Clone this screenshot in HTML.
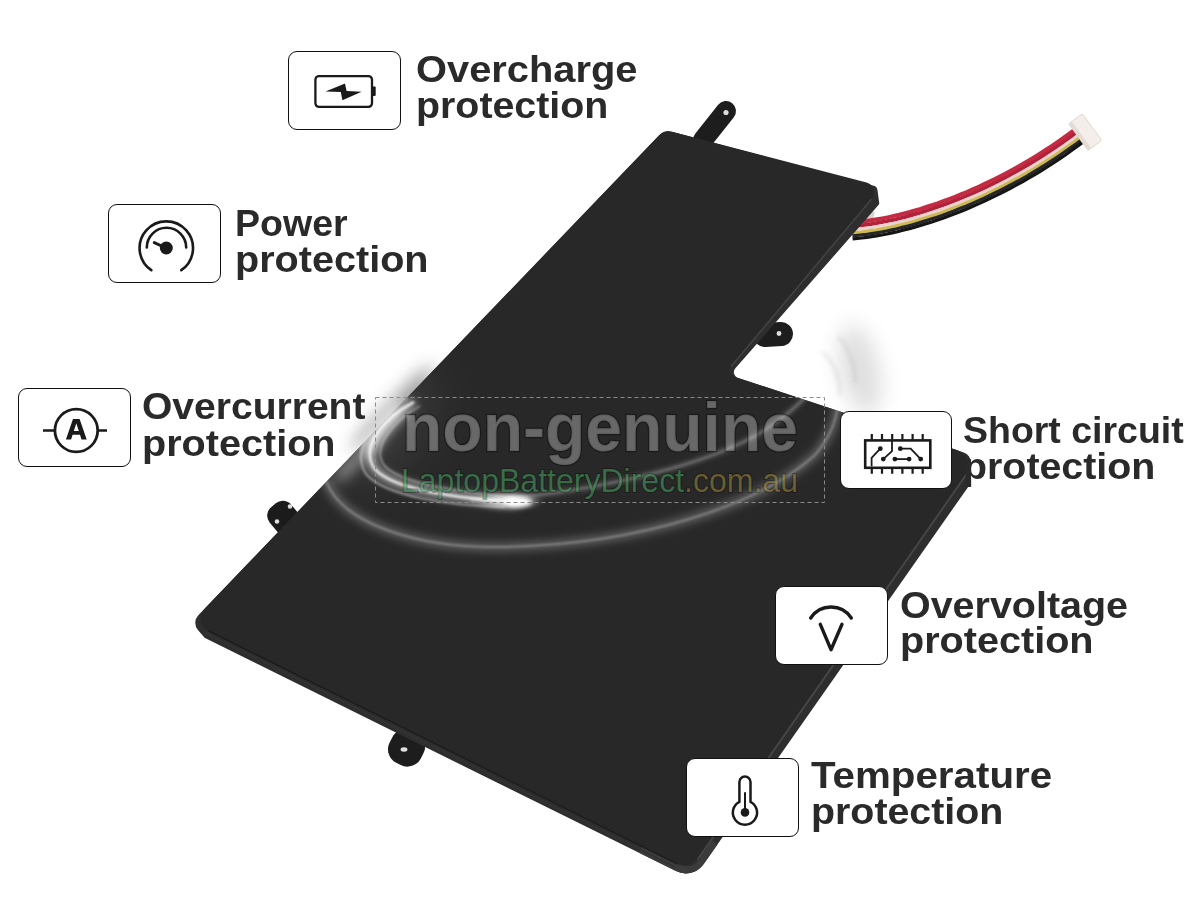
<!DOCTYPE html>
<html><head><meta charset="utf-8">
<style>
html,body{margin:0;padding:0;background:#fff;}
body{width:1200px;height:900px;overflow:hidden;position:relative;font-family:"Liberation Sans",sans-serif;}
.t{position:absolute;font-weight:bold;font-size:36px;line-height:1;color:#2a2a2a;white-space:nowrap;transform-origin:0 0;}
.box{position:absolute;width:110.6px;height:76.6px;border:1.5px solid #101010;border-radius:9px;background:#fff;box-sizing:content-box;}
.box svg{position:absolute;left:-1.5px;top:-1.5px;}
#scene{position:absolute;left:0;top:0;}
</style></head><body>

<svg id="scene" width="1200" height="900" viewBox="0 0 1200 900">
<defs>
  <filter id="b05" x="-10%" y="-10%" width="120%" height="120%"><feGaussianBlur stdDeviation="0.5"/></filter>
  <filter id="b1" x="-50%" y="-50%" width="200%" height="200%"><feGaussianBlur stdDeviation="0.8"/></filter>
  <filter id="b2" x="-50%" y="-50%" width="200%" height="200%"><feGaussianBlur stdDeviation="2"/></filter>
  <filter id="b4" filterUnits="userSpaceOnUse" x="0" y="0" width="1200" height="900"><feGaussianBlur stdDeviation="4"/></filter>
  <filter id="b10" filterUnits="userSpaceOnUse" x="0" y="0" width="1200" height="900"><feGaussianBlur stdDeviation="10"/></filter>
  <filter id="b20" filterUnits="userSpaceOnUse" x="0" y="0" width="1200" height="900"><feGaussianBlur stdDeviation="20"/></filter>
  <clipPath id="batclip"><path id="batpath" d="M671.88,131.63 L866.53,182.42 A10.00,10.00 0 0 1 871.68,198.51 L730.87,366.92 A6.00,6.00 0 0 0 733.59,376.47 L956.79,450.07 A16.00,16.00 0 0 1 964.90,474.42 L696.79,858.49 A16.00,16.00 0 0 1 676.55,863.66 L208.46,630.89 A14.00,14.00 0 0 1 204.60,608.65 L659.22,135.20 A13.00,13.00 0 0 1 671.88,131.63 Z"/></clipPath>
</defs>

<!-- cable -->
<path d="M862,210 L875,212 L872,222 L858,221 Z" fill="#d6d2ce"/>
<g fill="none" stroke-linecap="butt" stroke-linejoin="round" filter="url(#b05)">
<polyline points="851.5,222.4 855.7,222.1 860.1,221.7 864.6,221.2 869.2,220.5 873.9,219.8 878.8,219.0 883.7,218.1 888.7,217.1 893.8,215.9 899.1,214.7 904.3,213.4 909.7,212.0 915.1,210.4 920.7,208.8 926.2,207.0 931.9,205.2 937.6,203.3 943.3,201.2 949.1,199.0 955.0,196.8 960.8,194.4 966.8,192.0 972.7,189.4 978.7,186.7 984.7,183.9 990.7,181.0 996.8,178.1 1002.8,175.0 1008.9,171.8 1014.9,168.5 1021.0,165.0 1027.1,161.5 1033.1,157.9 1039.1,154.2 1045.2,150.3 1051.2,146.4 1057.1,142.3 1063.1,138.2 1069.0,133.9 1074.9,129.6" stroke="#c42b42" stroke-width="4.0"/>
<polyline points="851.7,226.2 856.1,225.9 860.5,225.4 865.1,224.9 869.8,224.3 874.6,223.5 879.4,222.7 884.4,221.7 889.5,220.7 894.7,219.6 899.9,218.3 905.3,217.0 910.7,215.5 916.2,213.9 921.7,212.3 927.4,210.5 933.0,208.7 938.8,206.7 944.6,204.6 950.4,202.4 956.3,200.1 962.2,197.8 968.2,195.3 974.2,192.7 980.2,190.0 986.2,187.2 992.3,184.2 998.4,181.2 1004.5,178.1 1010.5,174.9 1016.6,171.5 1022.7,168.1 1028.8,164.5 1034.9,160.9 1041.0,157.1 1047.1,153.2 1053.1,149.3 1059.1,145.2 1065.1,141.0 1071.0,136.7 1076.9,132.3" stroke="#b3223a" stroke-width="3.9"/>
<polyline points="852.0,229.7 856.4,229.4 860.9,228.9 865.5,228.3 870.3,227.7 875.1,226.9 880.1,226.1 885.1,225.1 890.2,224.1 895.5,222.9 900.8,221.6 906.1,220.3 911.6,218.8 917.1,217.2 922.7,215.5 928.4,213.7 934.1,211.8 939.9,209.8 945.7,207.7 951.6,205.5 957.5,203.2 963.5,200.8 969.5,198.3 975.5,195.7 981.6,193.0 987.6,190.1 993.7,187.2 999.8,184.1 1006.0,181.0 1012.1,177.7 1018.2,174.4 1024.4,170.9 1030.5,167.3 1036.6,163.6 1042.7,159.8 1048.8,155.9 1054.9,151.9 1060.9,147.8 1066.9,143.6 1072.9,139.2 1078.8,134.8" stroke="#ecd2cf" stroke-width="3.1"/>
<polyline points="852.2,232.7 856.7,232.3 861.2,231.9 865.9,231.3 870.7,230.6 875.6,229.9 880.6,229.0 885.7,228.0 890.9,226.9 896.1,225.7 901.5,224.5 906.9,223.1 912.4,221.6 917.9,220.0 923.6,218.3 929.3,216.5 935.0,214.6 940.8,212.6 946.7,210.4 952.6,208.2 958.6,205.9 964.6,203.4 970.6,200.9 976.6,198.3 982.7,195.5 988.8,192.7 995.0,189.7 1001.1,186.6 1007.3,183.4 1013.4,180.2 1019.6,176.8 1025.7,173.3 1031.9,169.7 1038.0,166.0 1044.2,162.1 1050.3,158.2 1056.4,154.2 1062.5,150.0 1068.5,145.8 1074.5,141.4 1080.5,136.9" stroke="#cdb94e" stroke-width="3.0"/>
<polyline points="852.4,235.8 856.9,235.4 861.6,234.9 866.3,234.4 871.2,233.7 876.1,232.9 881.1,232.0 886.3,231.0 891.5,229.9 896.8,228.7 902.2,227.4 907.6,226.0 913.2,224.5 918.8,222.9 924.5,221.1 930.2,219.3 936.0,217.4 941.8,215.4 947.7,213.2 953.7,211.0 959.7,208.6 965.7,206.2 971.7,203.6 977.8,200.9 983.9,198.2 990.1,195.3 996.2,192.3 1002.4,189.2 1008.6,186.0 1014.8,182.7 1021.0,179.3 1027.2,175.8 1033.3,172.1 1039.5,168.4 1045.7,164.5 1051.8,160.6 1058.0,156.5 1064.1,152.3 1070.1,148.1 1076.2,143.7 1082.2,139.2" stroke="#262626" stroke-width="3.2"/>
<polyline points="852.6,238.9 857.2,238.5 861.9,238.0 866.7,237.4 871.6,236.7 876.6,235.9 881.7,235.0 886.9,234.0 892.1,232.9 897.5,231.7 902.9,230.3 908.4,228.9 914.0,227.4 919.6,225.7 925.3,224.0 931.1,222.2 936.9,220.2 942.8,218.2 948.8,216.0 954.7,213.7 960.7,211.4 966.8,208.9 972.9,206.3 979.0,203.6 985.2,200.8 991.3,197.9 997.5,194.9 1003.7,191.8 1009.9,188.6 1016.1,185.2 1022.4,181.8 1028.6,178.2 1034.8,174.6 1041.0,170.8 1047.2,166.9 1053.4,163.0 1059.5,158.9 1065.7,154.7 1071.8,150.3 1077.8,145.9 1083.8,141.4" stroke="#121212" stroke-width="3.2"/>
</g>
<g transform="translate(1085.5,132.5) rotate(-36)">
  <rect x="-8.5" y="-17" width="17" height="33" rx="1.5" fill="#f3eee9" stroke="#ddd3ca" stroke-width="0.8"/>
  <rect x="-8.5" y="-17" width="4" height="33" fill="#e4dcd4"/>
</g>
<!-- tabs -->
<path d="M703,140 L726,111" stroke="#1d1d1d" stroke-width="20" stroke-linecap="round"/>
<circle cx="726" cy="112.5" r="2.6" fill="#ddd"/>
<path d="M765,335 L781,334" stroke="#1d1d1d" stroke-width="24" stroke-linecap="round"/>
<circle cx="779" cy="333.5" r="2.4" fill="#ddd"/>
<g transform="translate(285,519) rotate(-40)"><rect x="-14" y="-18" width="28" height="38" rx="11" fill="#1b1b1b"/></g>
<circle cx="290" cy="506.5" r="2.3" fill="#ddd"/>
<circle cx="277" cy="521.5" r="2.3" fill="#ddd"/>
<g transform="translate(407.5,746) rotate(27)"><rect x="-17.5" y="-16" width="35" height="36" rx="15" fill="#1d1d1d"/></g>
<ellipse cx="404" cy="749.5" rx="3.4" ry="2.2" fill="#e0e0e0"/>

<defs>
  <filter id="b7" filterUnits="userSpaceOnUse" x="0" y="0" width="1200" height="900"><feGaussianBlur stdDeviation="7"/></filter>
  <mask id="mSmoke" maskUnits="userSpaceOnUse" x="0" y="0" width="1200" height="900">
    <ellipse cx="392" cy="408" rx="26" ry="55" transform="rotate(44 392 408)" fill="#fff" filter="url(#b10)"/>
  </mask>
</defs>
<path d="M671.92,131.69 L873.79,185.74 A5.00,5.00 0 0 1 877.45,189.89 L879.21,202.64 A3.00,3.00 0 0 1 878.50,205.03 L735.37,368.29 A6.00,6.00 0 0 0 738.00,377.94 L963.77,452.51 A10.00,10.00 0 0 1 970.62,462.51 L969.54,484.14 A3.00,3.00 0 0 1 969.00,485.71 L703.74,864.04 A22.00,22.00 0 0 1 675.97,871.12 L205.54,638.37 A3.00,3.00 0 0 1 204.60,637.64 L197.93,629.94 A10.93,10.93 0 0 1 198.31,615.21 L659.18,135.24 A13.00,13.00 0 0 1 671.92,131.69 Z" fill="#000" fill-opacity="0.5" filter="url(#b10)" mask="url(#mSmoke)" transform="translate(-5,-5)"/>
<!-- battery body: side band then top surface -->
<path d="M671.92,131.69 L873.79,185.74 A5.00,5.00 0 0 1 877.45,189.89 L879.21,202.64 A3.00,3.00 0 0 1 878.50,205.03 L735.37,368.29 A6.00,6.00 0 0 0 738.00,377.94 L963.77,452.51 A10.00,10.00 0 0 1 970.62,462.51 L969.54,484.14 A3.00,3.00 0 0 1 969.00,485.71 L703.74,864.04 A22.00,22.00 0 0 1 675.97,871.12 L205.54,638.37 A3.00,3.00 0 0 1 204.60,637.64 L197.93,629.94 A10.93,10.93 0 0 1 198.31,615.21 L659.18,135.24 A13.00,13.00 0 0 1 671.92,131.69 Z" fill="#2e2e2e"/>
<clipPath id="silclip"><path d="M671.92,131.69 L873.79,185.74 A5.00,5.00 0 0 1 877.45,189.89 L879.21,202.64 A3.00,3.00 0 0 1 878.50,205.03 L735.37,368.29 A6.00,6.00 0 0 0 738.00,377.94 L963.77,452.51 A10.00,10.00 0 0 1 970.62,462.51 L969.54,484.14 A3.00,3.00 0 0 1 969.00,485.71 L703.74,864.04 A22.00,22.00 0 0 1 675.97,871.12 L205.54,638.37 A3.00,3.00 0 0 1 204.60,637.64 L197.93,629.94 A10.93,10.93 0 0 1 198.31,615.21 L659.18,135.24 A13.00,13.00 0 0 1 671.92,131.69 Z"/></clipPath>
<path d="M716,843 L703,862 Q693,876 676,868 L640,850" fill="none" stroke="#3b3b3b" stroke-width="9" clip-path="url(#silclip)"/>
<use href="#batpath" fill="#282828"/>
<g fill="none" stroke-linecap="round">
  <path d="M871.2,199.5 L731.5,366" stroke="#424242" stroke-width="1.6"/>
  <path d="M966,475 L698,859" stroke="#474747" stroke-width="1.8"/>
  <path d="M676.5,863.7 L208.5,630.9" stroke="#1b1b1b" stroke-width="1.2"/>
  <path d="M205,633 L675,867" stroke="#333" stroke-width="1.5"/>
</g>
<!-- swirl glows -->
<defs>
  <linearGradient id="gOuter" gradientUnits="userSpaceOnUse" x1="370" y1="0" x2="840" y2="0">
    <stop offset="0" stop-color="#fff" stop-opacity="0.75"/>
    <stop offset="0.3" stop-color="#fff" stop-opacity="0.45"/>
    <stop offset="0.7" stop-color="#fff" stop-opacity="0.32"/>
    <stop offset="1" stop-color="#fff" stop-opacity="0.22"/>
  </linearGradient>
  <linearGradient id="gInner" gradientUnits="userSpaceOnUse" x1="370" y1="0" x2="820" y2="0">
    <stop offset="0" stop-color="#fff" stop-opacity="0.95"/>
    <stop offset="0.35" stop-color="#fff" stop-opacity="0.8"/>
    <stop offset="0.6" stop-color="#fff" stop-opacity="0.25"/>
    <stop offset="1" stop-color="#fff" stop-opacity="0.12"/>
  </linearGradient>
  <radialGradient id="gSpot" cx="0.5" cy="0.5" r="0.5">
    <stop offset="0" stop-color="#fff" stop-opacity="1"/>
    <stop offset="0.4" stop-color="#fff" stop-opacity="0.6"/>
    <stop offset="1" stop-color="#fff" stop-opacity="0"/>
  </radialGradient>
  <radialGradient id="gHaze" cx="0.5" cy="0.5" r="0.5">
    <stop offset="0" stop-color="#fff" stop-opacity="1"/>
    <stop offset="0.55" stop-color="#fff" stop-opacity="0.8"/>
    <stop offset="1" stop-color="#fff" stop-opacity="0"/>
  </radialGradient>
</defs>
<g clip-path="url(#batclip)">
  <!-- outer ring C -->
  <path d="M325,478 C340,525 420,548 500,547 C640,545 760,505 815,455 C835,432 842,405 838,380" fill="none" stroke="#fff" stroke-opacity="0.28" stroke-width="8" filter="url(#b4)"/>
  <path d="M325,478 C340,525 420,548 500,547 C640,545 760,505 815,455 C835,432 842,405 838,380" fill="none" stroke="#fff" stroke-opacity="0.3" stroke-width="2" filter="url(#b1)"/>
  <!-- middle ring B -->
  <path d="M470,500 C560,498 690,472 755,436 C785,418 805,400 818,382" fill="none" stroke="#fff" stroke-opacity="0.2" stroke-width="5" filter="url(#b2)"/>
  <path d="M470,500 C560,498 690,472 755,436 C785,418 805,400 818,382" fill="none" stroke="#fff" stroke-opacity="0.22" stroke-width="1.5" filter="url(#b1)"/>
  <!-- inner bright ring A -->
  <path d="M414,402 C384,418 360,446 374,468 C390,488 450,498 518,502" fill="none" stroke="#fff" stroke-opacity="0.55" stroke-width="9" filter="url(#b4)"/>
  <path d="M414,402 C384,418 360,446 374,468 C390,488 450,498 518,502" fill="none" stroke="#fff" stroke-opacity="0.9" stroke-width="2.2" filter="url(#b1)"/>
  <path d="M408,398 C376,416 350,450 366,474 C384,496 450,506 505,507" fill="none" stroke="#fff" stroke-opacity="0.6" stroke-width="1.5" filter="url(#b1)"/>
  <path d="M420,406 C392,422 372,448 384,465 C400,484 460,492 515,498" fill="none" stroke="#fff" stroke-opacity="0.5" stroke-width="1.3" filter="url(#b1)"/>
  <ellipse cx="508" cy="501" rx="36" ry="10" fill="url(#gSpot)" filter="url(#b2)"/>
  <ellipse cx="518" cy="502" rx="14" ry="5" fill="#fff" filter="url(#b2)"/>
  </g>
<!-- left haze (unclipped) -->
  <ellipse cx="380" cy="428" rx="40" ry="70" transform="rotate(44 380 428)" fill="#fff" fill-opacity="0.08" filter="url(#b20)"/>
  <path d="M398,410 C388,420 378,432 370,444" fill="none" stroke="#fff" stroke-opacity="0.95" stroke-width="12" stroke-linecap="round" filter="url(#b7)"/>
  <path d="M370,444 C360,456 350,466 340,476" fill="none" stroke="#fff" stroke-opacity="0.5" stroke-width="10" stroke-linecap="round" filter="url(#b7)"/>
<!-- gray ring haze outside battery in notch -->
<g>
  <ellipse cx="860" cy="370" rx="20" ry="46" transform="rotate(-12 860 370)" fill="#000" fill-opacity="0.12" filter="url(#b10)"/>
  <path d="M822,352 C834,362 840,378 840,396" fill="none" stroke="#000" stroke-opacity="0.10" stroke-width="2.5" filter="url(#b2)"/>
  <path d="M838,336 C850,350 856,366 855,384" fill="none" stroke="#000" stroke-opacity="0.10" stroke-width="2.5" filter="url(#b2)"/>
</g>
<!-- watermark -->
<rect x="375.5" y="397.5" width="449" height="105" fill="none" stroke="#8a8a8a" stroke-width="1" stroke-dasharray="4 3"/>
<text x="402" y="450.5" textLength="396" lengthAdjust="spacingAndGlyphs" font-family="Liberation Sans" font-weight="bold" font-size="68" fill="#fff" fill-opacity="0.3" stroke="#000" stroke-opacity="0.35" stroke-width="2.5" paint-order="stroke">non-genuine</text>
<text x="401" y="492" textLength="397" lengthAdjust="spacingAndGlyphs" font-family="Liberation Sans" font-size="33.5" fill="#52b870" fill-opacity="0.5" stroke="#000" stroke-opacity="0.3" stroke-width="2" paint-order="stroke">LaptopBatteryDirect<tspan fill="#c8a94a" fill-opacity="0.45">.com.au</tspan></text>
</svg>

<!-- label text (on top) -->
<div class="t" id="t1a" style="left:415.84px;top:52.03px;transform:scaleX(1.1066);">Overcharge</div>
<div class="t" id="t1b" style="left:415.81px;top:88.33px;transform:scaleX(1.0930);">protection</div>
<div class="t" id="t2a" style="left:234.92px;top:205.53px;transform:scaleX(1.0425);">Power</div>
<div class="t" id="t2b" style="left:234.96px;top:242.28px;transform:scaleX(1.0994);">protection</div>
<div class="t" id="t3a" style="left:141.67px;top:389.13px;transform:scaleX(1.0843);">Overcurrent</div>
<div class="t" id="t3b" style="left:141.96px;top:425.53px;transform:scaleX(1.0994);">protection</div>
<div class="t" id="t4a" style="left:962.96px;top:413.13px;transform:scaleX(1.0408);">Short circuit</div>
<div class="t" id="t4b" style="left:962.81px;top:448.53px;transform:scaleX(1.0930);">protection</div>
<div class="t" id="t5a" style="left:899.65px;top:587.53px;transform:scaleX(1.0956);">Overvoltage</div>
<div class="t" id="t5b" style="left:899.96px;top:622.53px;transform:scaleX(1.0994);">protection</div>
<div class="t" id="t6a" style="left:810.94px;top:758.28px;transform:scaleX(1.1192);">Temperature</div>
<div class="t" id="t6b" style="left:811.19px;top:794.03px;transform:scaleX(1.0930);">protection</div>

<!-- label boxes -->
<div class="box" style="left:288px;top:51px;">
  <svg width="111" height="77" viewBox="288 51 111 77">
    <rect x="315.4" y="76.1" width="56.6" height="30.8" rx="3.6" fill="none" stroke="#1a1a1a" stroke-width="2.3"/>
    <rect x="372.5" y="86.6" width="3.2" height="9.4" rx="1" fill="#1a1a1a"/>
    <path d="M325.5,91.4 L345,83.4 L346.6,90.9 L361.6,91.7 L342.4,100.3 L340.8,92 Z" fill="#1a1a1a"/>
  </svg>
</div>
<div class="box" style="left:108px;top:204px;">
  <svg width="111" height="77" viewBox="108 204 111 77">
    <path d="M151.3,270.2 A26.7,26.7 0 1 1 181.3,270.2" fill="none" stroke="#1a1a1a" stroke-width="2.6" stroke-linecap="round"/>
    <path d="M146.8,247.5 A19.7,19.7 0 1 1 186.2,247.5" fill="none" stroke="#1a1a1a" stroke-width="2.6" stroke-linecap="round"/>
    <circle cx="166.3" cy="248" r="6.5" fill="#1a1a1a"/>
    <path d="M166,248 L154.3,242.6" stroke="#1a1a1a" stroke-width="3" stroke-linecap="round"/>
  </svg>
</div>
<div class="box" style="left:18px;top:388px;">
  <svg width="111" height="77" viewBox="18 388 111 77">
    <circle cx="76.3" cy="430.5" r="21.4" fill="none" stroke="#1a1a1a" stroke-width="2.8"/>
    <path d="M43,430.5 H54.8 M97.8,430.5 H107" stroke="#1a1a1a" stroke-width="2.5"/>
    <path d="M65.9,439.6 L73,419 L79.6,419 L86.7,439.6 L81.5,439.6 L80,434.8 L72.6,434.8 L71.1,439.6 Z M73.8,430.9 L78.8,430.9 L76.3,423.3 Z" fill="#1a1a1a" fill-rule="evenodd"/>
  </svg>
</div>
<div class="box" style="left:839.5px;top:410.5px;">
  <svg width="111" height="77" viewBox="839.5 410.5 111 77">
    <rect x="865.7" y="440.9" width="65.1" height="27.4" fill="none" stroke="#1a1a1a" stroke-width="2.6"/>
    <g stroke="#1a1a1a" stroke-width="2.2">
      <path d="M872.3,434.6 V440 M882.5,434.6 V440 M892.7,434.6 V440 M902.9,434.6 V440 M913.1,434.6 V440 M923.2,434.6 V440"/>
      <path d="M872.3,469 V474.2 M882.5,469 V474.2 M892.7,469 V474.2 M902.9,469 V474.2 M913.1,469 V474.2 M923.2,469 V474.2"/>
    </g>
    <g stroke="#1a1a1a" stroke-width="1.8" fill="none">
      <path d="M872.1,467 V458.3 L880.8,449.2"/>
      <path d="M892.5,441 V451.7 L883.8,459.6"/>
      <path d="M900.8,449.2 H911.2 L921.2,459.6"/>
      <path d="M895.4,459.6 H909.6"/>
    </g>
    <g fill="#1a1a1a">
      <circle cx="880.8" cy="449.2" r="2.4"/><circle cx="883.8" cy="459.6" r="2.4"/>
      <circle cx="900.8" cy="449.2" r="2.4"/><circle cx="921.2" cy="459.6" r="2.4"/>
      <circle cx="895.4" cy="459.6" r="2.4"/><circle cx="909.6" cy="459.6" r="2.4"/>
    </g>
  </svg>
</div>
<div class="box" style="left:775px;top:586px;">
  <svg width="111" height="77" viewBox="775 586 111 77">
    <path d="M810.7,618 A24.2,24.2 0 0 1 851.3,618" fill="none" stroke="#1a1a1a" stroke-width="3.4" stroke-linecap="round"/>
    <path d="M820.3,624.3 L831,649.7 L842,624.3" fill="none" stroke="#1a1a1a" stroke-width="3.4" stroke-linecap="round" stroke-linejoin="round"/>
  </svg>
</div>
<div class="box" style="left:686px;top:758px;">
  <svg width="111" height="77" viewBox="686 758 111 77">
    <path d="M739.4,801.8 V782.1 A5.55,5.55 0 0 1 750.5,782.1 V801.8 A12.1,12.1 0 1 1 739.4,801.8 Z" fill="none" stroke="#1a1a1a" stroke-width="2.5"/>
    <path d="M745,792.2 V810" stroke="#1a1a1a" stroke-width="2"/>
    <circle cx="745" cy="812.4" r="4.3" fill="#1a1a1a"/>
  </svg>
</div>
</body></html>
